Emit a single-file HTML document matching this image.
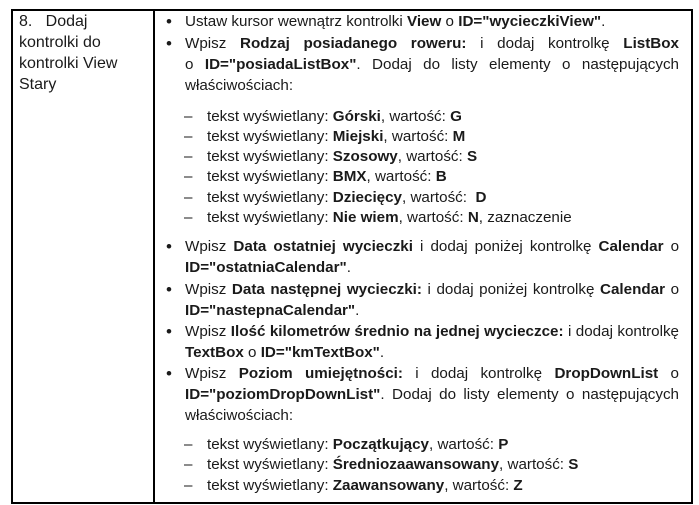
<!DOCTYPE html>
<html><head><meta charset="utf-8"><style>
body{margin:0;width:699px;height:505px;background:#fff;position:relative;overflow:hidden;font-family:"Liberation Sans",sans-serif;font-size:15.2px;color:#1a1a1a}
.l{position:absolute;height:20px;line-height:20px;white-space:nowrap;margin-top:2px}
.j{width:494px;text-align:justify;text-align-last:justify;left:185px}
.b{position:absolute;left:166px;font-size:17px;line-height:20px;height:20px;margin-top:2px}
.d{position:absolute;left:184px;line-height:20px;height:20px;margin-top:2px}
.v{position:absolute;background:#000}
b{font-weight:bold}
</style></head><body>
<div class="v" style="left:11px;top:9px;width:681px;height:1.5px"></div>
<div class="v" style="left:11px;top:502px;width:681px;height:1.5px"></div>
<div class="v" style="left:11px;top:9px;width:1.5px;height:495px"></div>
<div class="v" style="left:153px;top:9px;width:1.5px;height:495px"></div>
<div class="v" style="left:691px;top:9px;width:1.5px;height:495px"></div>

<div class="l" style="left:19px;top:10px;font-size:16px">8.&nbsp;&nbsp; Dodaj</div>
<div class="l" style="left:19px;top:31px;font-size:16px">kontrolki do</div>
<div class="l" style="left:19px;top:52px;font-size:16px">kontrolki View</div>
<div class="l" style="left:19px;top:73px;font-size:16px">Stary</div>

<div class="b" style="top:10px">•</div>
<div class="l" style="left:185px;top:10px">Ustaw kursor wewnątrz kontrolki <b>View</b> o <b>ID="wycieczkiView"</b>.</div>
<div class="b" style="top:32px">•</div>
<div class="l j" style="top:32px">Wpisz <b>Rodzaj posiadanego roweru:</b> i dodaj kontrolkę <b>ListBox</b></div>
<div class="l j" style="top:53px">o <b>ID="posiadaListBox"</b>. Dodaj do listy elementy o następujących</div>
<div class="l" style="left:185px;top:74px">właściwościach:</div>

<div class="d" style="top:105px">–</div><div class="l" style="left:207px;top:105px">tekst wyświetlany: <b>Górski</b>, wartość: <b>G</b></div>
<div class="d" style="top:125px">–</div><div class="l" style="left:207px;top:125px">tekst wyświetlany: <b>Miejski</b>, wartość: <b>M</b></div>
<div class="d" style="top:145px">–</div><div class="l" style="left:207px;top:145px">tekst wyświetlany: <b>Szosowy</b>, wartość: <b>S</b></div>
<div class="d" style="top:165px">–</div><div class="l" style="left:207px;top:165px">tekst wyświetlany: <b>BMX</b>, wartość: <b>B</b></div>
<div class="d" style="top:186px">–</div><div class="l" style="left:207px;top:186px">tekst wyświetlany: <b>Dziecięcy</b>, wartość:&nbsp; <b>D</b></div>
<div class="d" style="top:206px">–</div><div class="l" style="left:207px;top:206px">tekst wyświetlany: <b>Nie wiem</b>, wartość: <b>N</b>, zaznaczenie</div>

<div class="b" style="top:235px">•</div>
<div class="l j" style="top:235px">Wpisz <b>Data ostatniej wycieczki</b> i dodaj poniżej kontrolkę <b>Calendar</b> o</div>
<div class="l" style="left:185px;top:256px"><b>ID="ostatniaCalendar"</b>.</div>
<div class="b" style="top:278px">•</div>
<div class="l j" style="top:278px">Wpisz <b>Data następnej wycieczki:</b> i dodaj poniżej kontrolkę <b>Calendar</b> o</div>
<div class="l" style="left:185px;top:299px"><b>ID="nastepnaCalendar"</b>.</div>
<div class="b" style="top:320px">•</div>
<div class="l j" style="top:320px">Wpisz <b>Ilość kilometrów średnio na jednej wycieczce:</b> i dodaj kontrolkę</div>
<div class="l" style="left:185px;top:341px"><b>TextBox</b> o <b>ID="kmTextBox"</b>.</div>
<div class="b" style="top:362px">•</div>
<div class="l j" style="top:362px">Wpisz <b>Poziom umiejętności:</b> i dodaj kontrolkę <b>DropDownList</b> o</div>
<div class="l j" style="top:383px"><b>ID="poziomDropDownList"</b>. Dodaj do listy elementy o następujących</div>
<div class="l" style="left:185px;top:404px">właściwościach:</div>

<div class="d" style="top:433px">–</div><div class="l" style="left:207px;top:433px">tekst wyświetlany: <b>Początkujący</b>, wartość: <b>P</b></div>
<div class="d" style="top:453px">–</div><div class="l" style="left:207px;top:453px">tekst wyświetlany: <b>Średniozaawansowany</b>, wartość: <b>S</b></div>
<div class="d" style="top:474px">–</div><div class="l" style="left:207px;top:474px">tekst wyświetlany: <b>Zaawansowany</b>, wartość: <b>Z</b></div>
</body></html>
